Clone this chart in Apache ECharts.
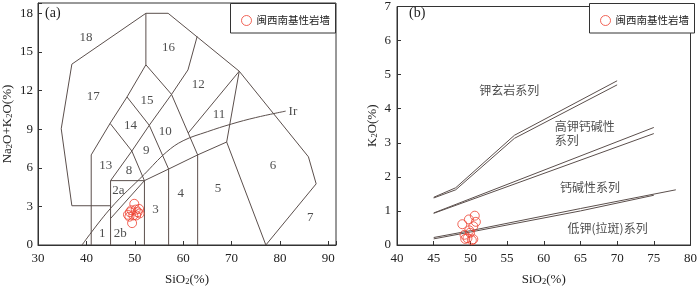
<!DOCTYPE html>
<html><head><meta charset="utf-8">
<script src="https://cdn.jsdelivr.net/npm/echarts@6/dist/echarts.min.js"></script>
<style>html,body{margin:0;padding:0;background:#fff}#c{width:700px;height:291px}</style>
</head><body><div id="c"></div>
<script>
// ---- Panel (a): TAS diagram ----
const tasOuterLeft = [[52.3,18],[37,14.05],[34.8,9.03],[37,3.05],[45,3.05]];
const tasOuterRight = [[52.3,18],[56.9,18],[71.6,13.5],[85.9,6.85],[87.5,4.75],[77.1,0]];
const tasLine16 = [[52.3,18],[52.3,14]];
const tasLineA = [[41,0],[41,7],[44.9,9.45],[48.4,11.5],[52.3,14],[57.6,11.7],[63,7],[63,0]];
const tasBasalt = [[45,0],[45,5],[52,5],[52,0]];
const tasLineB = [[44.9,9.45],[49.4,7.3],[52,5]];
const tasLineC = [[48.4,11.5],[53,9.3],[57,5.9],[57,0]];
const tasLineD = [[45,5],[49.4,7.3],[53,9.3],[57.6,11.7],[61,13.6],[62.9,16.2]];
const tasLineE = [[45,2.06],[52,5],[57,5.9],[63,7],[69,8],[77.1,0]];
const tasLineF = [[69,8],[71.6,13.5],[61.05,8.7]];
const irvineLine = [[39.1,0],[45,2.85],[52,5.5],[56.5,7.2],[60,8.1],[65,8.8],[70,9.4],[75,9.9],[81.2,10.4]];
const tasFieldNames = ['18','16','17','12','15','14','10','11','Ir','9','13','8','6','2a','4','5','3','7','1','2b'];
const tasFieldX = [39.9,57.0,41.4,63.1,52.55,49.1,56.3,67.4,82.7,52.4,44.0,48.8,78.6,46.6,59.5,67.2,54.3,86.3,43.3,47.0];
const tasFieldY = [16.1,15.3,11.5,12.45,11.25,9.25,8.85,10.1,10.4,7.3,6.15,5.8,6.15,4.2,4.0,4.4,2.75,2.15,0.9,0.9];
const tasSamples = [[49.9,3.2],[49.0,2.55],[48.6,2.35],[50.2,2.75],[50.9,2.8],[49.7,2.3],[51.0,2.45],[49.45,1.7],[50.6,2.55],[49.3,2.7],[50.3,2.3],[48.9,2.2]];
const tasXTicks = [30,40,50,60,70,80,90];
const tasYTicks = [0,3,6,9,12,15,18];

// ---- Panel (b): K2O-SiO2 diagram ----
const shoUpper = [[45,1.4],[48,1.68],[56,3.22],[70,4.82]];
const shoLower = [[45,1.38],[48,1.62],[56,3.13],[70,4.7]];
const highKUpper = [[45,0.94],[75,3.45]];
const highKLower = [[45,0.93],[75,3.27]];
const lowKUpper = [[45,0.22],[50,0.42],[65,1.07],[78,1.62]];
const lowKLower = [[45,0.18],[50,0.38],[65,1.0],[75,1.46]];
const kSeriesNames = ['钾玄岩系列','高钾钙碱性\n系列','钙碱性系列','低钾(拉斑)系列'];
const kSeriesX = [55.3,61.5,66.3,68.7];
const kSeriesY = [4.55,3.26,1.70,0.49];
const kSamples = [[48.9,0.61],[49.8,0.75],[50.6,0.86],[50.75,0.68],[50.4,0.55],[49.85,0.43],[49.95,0.36],[49.2,0.3],[49.3,0.18],[50.2,0.14],[49.6,0.2],[50.4,0.17]];

const seriesName = '闽西南基性岩墙';
const serif = 'Liberation Serif, Times New Roman, serif';
const cjk = 'Noto Sans CJK SC, sans-serif';
const lineColor = '#5b4f4c';
const axisColor = '#333';
const red = '#ee4030';

function lineSeries(data, xi, smooth) {
  return {type:'line', data, xAxisIndex:xi, yAxisIndex:xi, symbol:'none', silent:true,
    smooth: smooth || false, lineStyle:{color:lineColor, width:1}, animation:false, z:2};
}
function labelSeries(names, xs, ys, xi, font, size) {
  return {type:'scatter', xAxisIndex:xi, yAxisIndex:xi, symbolSize:0, silent:true, animation:false,
    data: names.map((n,i)=>({value:[xs[i],ys[i]], name:n,
      label: (n.indexOf('\n')>=0 ? {align:'left'} : {})})),
    label:{show:true, position:'inside', formatter:p=>p.name, color:'#222', fontFamily:font, fontSize:size, lineHeight:size+2}};
}
const sub = {n:{fontFamily:serif, fontSize:13, color:'#222'}, s:{fontFamily:serif, fontSize:8.5, color:'#222', verticalAlign:'bottom'}};
function axisCommon() {
  return {axisLine:{show:true, lineStyle:{color:axisColor, width:1}},
    axisTick:{show:true, inside:true, length:4, lineStyle:{color:axisColor}},
    splitLine:{show:false}};
}
const sampleStyle = {color:'rgba(0,0,0,0)', borderColor:red, borderWidth:1};

const chart = echarts.init(document.getElementById('c'), null, {renderer:'canvas'});
const option = {
  animation:false,
  grid:[
    {left:38, top:3, width:298, height:249.3, show:true, borderColor:axisColor, borderWidth:1},
    {left:397, top:3, width:298, height:249.3, show:true, borderColor:axisColor, borderWidth:1}
  ],
  xAxis:[
    Object.assign(axisCommon(), {gridIndex:0, type:'value', min:30, max:91.6, interval:10,
      axisLabel:{margin:7, fontFamily:serif, fontSize:13, color:'#222', formatter:v=>tasXTicks.includes(v)?String(v):''},
      name:'SiO{s|2}(%)', nameLocation:'middle', nameGap:28, nameTextStyle:{fontFamily:serif, fontSize:13, color:'#222', rich:sub}}),
    Object.assign(axisCommon(), {gridIndex:1, type:'value', min:40, max:80, interval:5,
      axisLabel:{margin:7, fontFamily:serif, fontSize:13, color:'#222'},
      name:'SiO{s|2}(%)', nameLocation:'middle', nameGap:28, nameTextStyle:{fontFamily:serif, fontSize:13, color:'#222', rich:sub}})
  ],
  yAxis:[
    Object.assign(axisCommon(), {gridIndex:0, type:'value', min:0, max:18.8, interval:3,
      axisLabel:{margin:5, fontFamily:serif, fontSize:13, color:'#222', formatter:v=>tasYTicks.includes(v)?String(v):''},
      name:'{n|Na}{s|2}{n|O+K}{s|2}{n|O(%)}', nameLocation:'middle', nameGap:24, nameRotate:90,
      nameTextStyle:{rich:sub}}),
    Object.assign(axisCommon(), {gridIndex:1, type:'value', min:0, max:7, interval:1,
      axisLabel:{margin:6, fontFamily:serif, fontSize:13, color:'#222'},
      name:'{n|K}{s|2}{n|O(%)}', nameLocation:'middle', nameGap:18, nameRotate:90,
      nameTextStyle:{rich:sub}})
  ],
  legend:[
    {left:236, top:10, itemWidth:10, itemHeight:10, itemGap:4,
      data:[{name:seriesName, icon:'circle', itemStyle:sampleStyle}],
      textStyle:{fontFamily:cjk, fontSize:10.5, color:'#222'}, selectedMode:false},
    {left:595, top:10, itemWidth:10, itemHeight:10, itemGap:4,
      data:[{name:seriesName, icon:'circle', itemStyle:sampleStyle}],
      textStyle:{fontFamily:cjk, fontSize:10.5, color:'#222'}, selectedMode:false}
  ],
  graphic:[
    {type:'rect', shape:{x:230.5, y:3.5, width:105, height:29.5}, style:{fill:'#fff', stroke:axisColor, lineWidth:1}, z:1, silent:true},
    {type:'rect', shape:{x:589.5, y:3.5, width:105, height:29.5}, style:{fill:'#fff', stroke:axisColor, lineWidth:1}, z:1, silent:true},
    {type:'text', left:45, top:6, style:{text:'(a)', font:'14px '+serif, fill:'#222'}, z:10},
    {type:'text', left:409, top:6, style:{text:'(b)', font:'14px '+serif, fill:'#222'}, z:10}
  ],
  series:[
    lineSeries(tasOuterLeft,0), lineSeries(tasOuterRight,0), lineSeries(tasLine16,0),
    lineSeries(tasLineA,0), lineSeries(tasBasalt,0), lineSeries(tasLineB,0), lineSeries(tasLineC,0),
    lineSeries(tasLineD,0), lineSeries(tasLineE,0), lineSeries(tasLineF,0), lineSeries(irvineLine,0,0.4),
    labelSeries(tasFieldNames, tasFieldX, tasFieldY, 0, serif, 13),
    {type:'scatter', name:seriesName, xAxisIndex:0, yAxisIndex:0, data:tasSamples, symbol:'circle', symbolSize:9,
      itemStyle:sampleStyle, z:5},
    lineSeries(shoUpper,1), lineSeries(shoLower,1), lineSeries(highKUpper,1), lineSeries(highKLower,1),
    lineSeries(lowKUpper,1), lineSeries(lowKLower,1),
    labelSeries(kSeriesNames, kSeriesX, kSeriesY, 1, cjk, 12),
    {type:'scatter', name:seriesName, xAxisIndex:1, yAxisIndex:1, data:kSamples, symbol:'circle', symbolSize:9,
      itemStyle:sampleStyle, z:5}
  ]
};
chart.setOption(option);
</script></body></html>
